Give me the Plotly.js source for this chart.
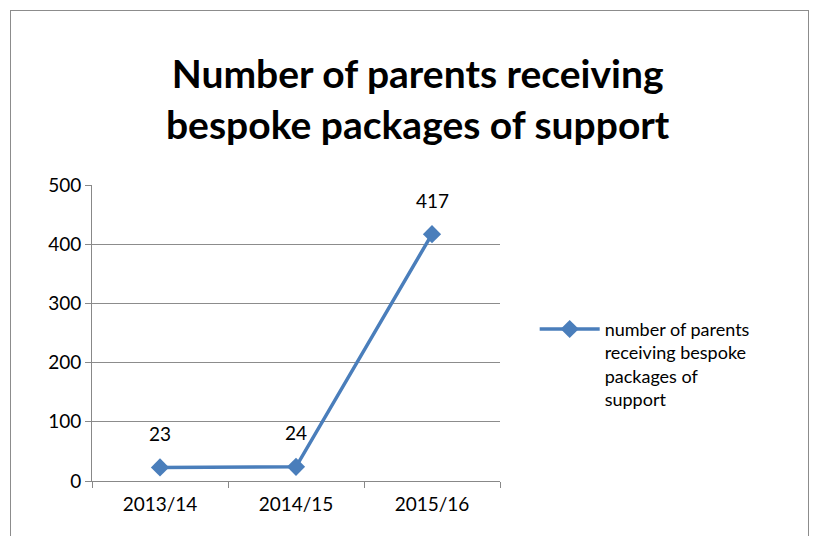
<!DOCTYPE html>
<html><head><meta charset="utf-8">
<script src="https://cdn.plot.ly/plotly-3.0.1.min.js"></script>
<style>body{margin:0;overflow:hidden}#frame{position:absolute;left:10px;top:10px;width:797px;height:540px;border:1px solid #8c8c8c;pointer-events:none}</style>
</head><body>
<div id="chart" style="width:819px;height:536px"></div><div id="frame"></div>
<script>
const categories = ["2013/14","2014/15","2015/16"];
const values = [23,24,417];
const seriesName = "number of parents<br>receiving bespoke<br>packages of<br>support";
const F = "Lato, 'Liberation Sans', sans-serif";
Plotly.newPlot("chart",[{
  x:categories, y:values, type:"scatter", mode:"lines+markers", name:seriesName,
  line:{color:"#4a7ebb",width:3.5}, marker:{symbol:"diamond",size:14,color:"#4a7ebb"}
}],{
  width:819,height:536,margin:{l:92,r:319,t:185,b:55},
  paper_bgcolor:"#fff",plot_bgcolor:"#fff",
  font:{family:F,size:18,color:"#000"},
  title:{text:"<b>Number of parents receiving<br>bespoke packages of support</b>",font:{family:F,size:39},x:0.51,xanchor:"center",y:0.835,yanchor:"middle"},
  xaxis:{type:"category",range:[-0.5,2.5],tickson:"boundaries",ticks:"outside",ticklen:6,tickcolor:"#888",showline:true,linecolor:"#888",showgrid:false,tickfont:{size:19},ticklabelstandoff:6},
  yaxis:{range:[0,500],dtick:100,showgrid:true,gridcolor:"#8c8c8c",showline:true,linecolor:"#888",ticks:"outside",ticklen:6,tickcolor:"#888",tickfont:{size:19},zeroline:false},
  showlegend:true,
  legend:{x:1.085,y:0.575,xanchor:"left",yanchor:"top",valign:"top",font:{size:18},itemwidth:60,tracegroupgap:0},
  annotations: categories.map((c,i)=>({x:c,y:values[i],text:String(values[i]),showarrow:false,yshift:34,font:{size:19}}))
},{staticPlot:true});
</script></body></html>
